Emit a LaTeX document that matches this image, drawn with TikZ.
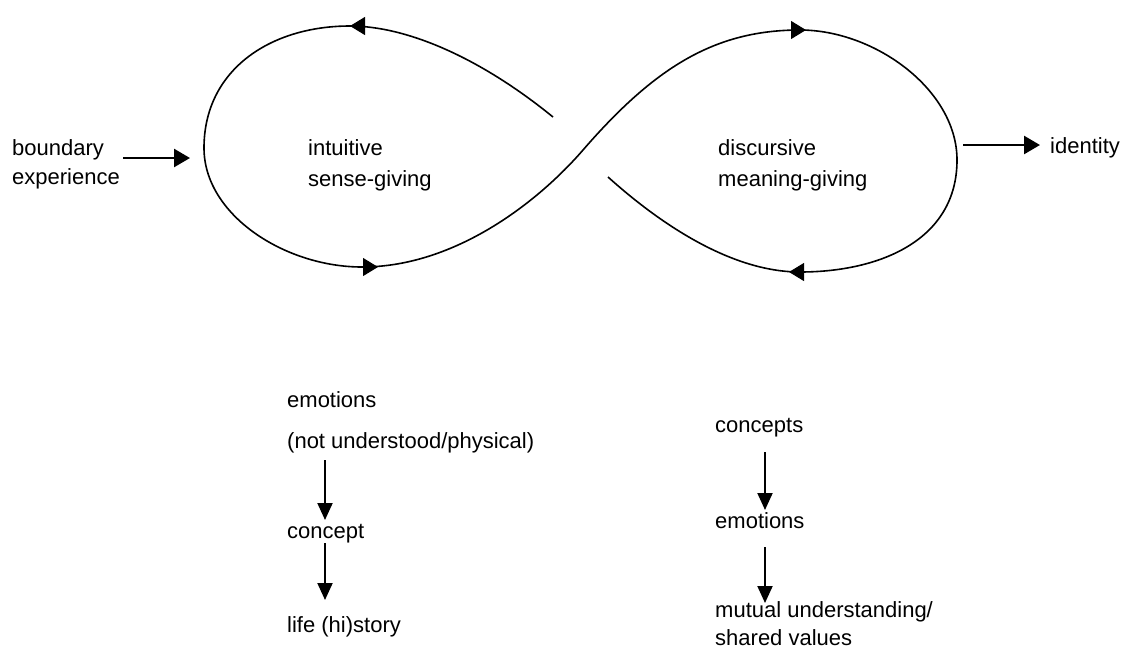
\documentclass[tikz,border=0pt]{standalone}
\usepackage{fontspec}
\setmainfont{Liberation Sans}
\usetikzlibrary{arrows.meta,calc}
\begin{document}
\begin{tikzpicture}[x=1pt,y=-1pt,
  txt/.style={anchor=base west,inner sep=0pt,font=\fontsize{22}{30}\selectfont},
  loopline/.style={line width=1.6pt,line join=round},
  looptip/.style={line width=1pt,-{Triangle[length=15pt,width=18pt]}},
  harrow/.style={line width=2.6pt,-{Triangle[length=16pt,width=18pt]}},
  varrow/.style={line width=2pt,-{Triangle[length=17pt,width=15pt]}}]
\fill[white] (0,0) rectangle (1123,657);
\useasboundingbox (0,0) rectangle (1123,657);

% infinity loop (one strand, broken at the crossing)
\coordinate (gapA) at (553,117);
\coordinate (ltop) at (350,26);
\coordinate (lleft) at (204,148);
\coordinate (lbot) at (362,267);
\coordinate (cross) at (583,150);
\coordinate (rtop) at (800,30);
\coordinate (rright) at (957,160);
\coordinate (rbot) at (800,272);
\coordinate (gapB) at (608,177);
\draw[loopline] (gapA) .. controls (478,56) and (405,26) .. (ltop)
  .. controls (270,26) and (204,70) .. (lleft)
  .. controls (204,215) and (285,267) .. (lbot)
  .. controls (455,267) and (538,202) .. (cross)
  .. controls (655,67) and (715,30) .. (rtop)
  .. controls (875,30) and (957,90) .. (rright)
  .. controls (957,240) and (880,272) .. (rbot)
  .. controls (730,272) and (658,222) .. (gapB);
\draw[looptip] (366,26) -- (350,26);
\draw[looptip] (362,267) -- (378,267);
\draw[looptip] (789,30) -- (806,30);
\draw[looptip] (805,272) -- (789,272);

% labels in the loops
\node[txt] (int1) at (308,155) {intuitive};
\node[txt] (int2) at (308,186) {sense-giving};
\node[txt] (dis1) at (718,155) {discursive};
\node[txt] (dis2) at (718,186) {meaning-giving};

% input / output
\node[txt] (bnd1) at (12,155) {boundary};
\node[txt] (bnd2) at (12,184) {experience};
\coordinate (inL) at (190,158);
\draw[harrow,shorten <=3pt] (bnd2.east |- inL) -- (inL);

\node[txt] (ident) at (1050,153) {identity};
\coordinate (outR) at (963,145);
\draw[harrow,shorten >=10pt] (outR) -- (outR -| ident.west);

% left column
\node[txt] (emoL) at (287,407) {emotions};
\node[txt] (phys) at (287,448) {(not understood/physical)};
\node[txt] (concept) at (287,538) {concept};
\node[txt] (life) at (287,632) {life (hi)story};
\draw[varrow] ($(phys.base west)+(38,12)$) -- ($(concept.base west)+(38,-18)$);
\draw[varrow] ($(concept.base west)+(38,5)$) -- ($(life.base west)+(38,-32)$);

% right column
\node[txt] (concepts) at (715,432) {concepts};
\node[txt] (emoR) at (715,528) {emotions};
\node[txt] (mutual) at (715,617) {mutual understanding/};
\node[txt] (shared) at (715,645) {shared values};
\draw[varrow] ($(concepts.base west)+(50,20)$) -- ($(emoR.base west)+(50,-18)$);
\draw[varrow] ($(emoR.base west)+(50,19)$) -- ($(mutual.base west)+(50,-14)$);
\end{tikzpicture}
\end{document}
